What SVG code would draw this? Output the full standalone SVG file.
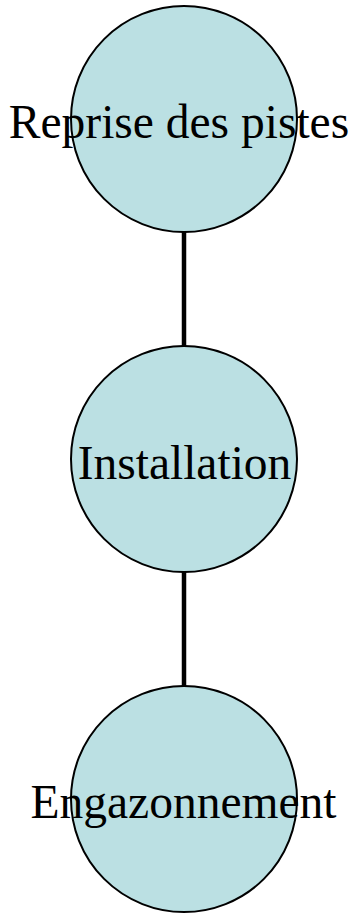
<svg xmlns="http://www.w3.org/2000/svg" width="364" height="914" viewBox="0 0 364 914">
<style>
.node circle{fill:#bbe0e3;stroke:#000;stroke-width:2}
.node text{font-family:"Liberation Serif",serif;font-size:47.5px;fill:#000;text-anchor:middle}
.edge{stroke:#000;stroke-width:4.5}
</style>
<rect width="364" height="914" fill="#fff"/>
<g id="connectors">
<line class="edge" x1="184" y1="232" x2="184" y2="346"/>
<line class="edge" x1="184" y1="572" x2="184" y2="686"/>
</g>
<g id="node-reprise" class="node">
<circle cx="184" cy="119" r="113"/>
<text x="179" y="138">Reprise des pistes</text>
</g>
<g id="node-installation" class="node">
<circle cx="184" cy="459" r="113"/>
<text x="184.5" y="479">Installation</text>
</g>
<g id="node-engazonnement" class="node">
<circle cx="184" cy="799" r="113"/>
<text x="183.5" y="818">Engazonnement</text>
</g>
</svg>
